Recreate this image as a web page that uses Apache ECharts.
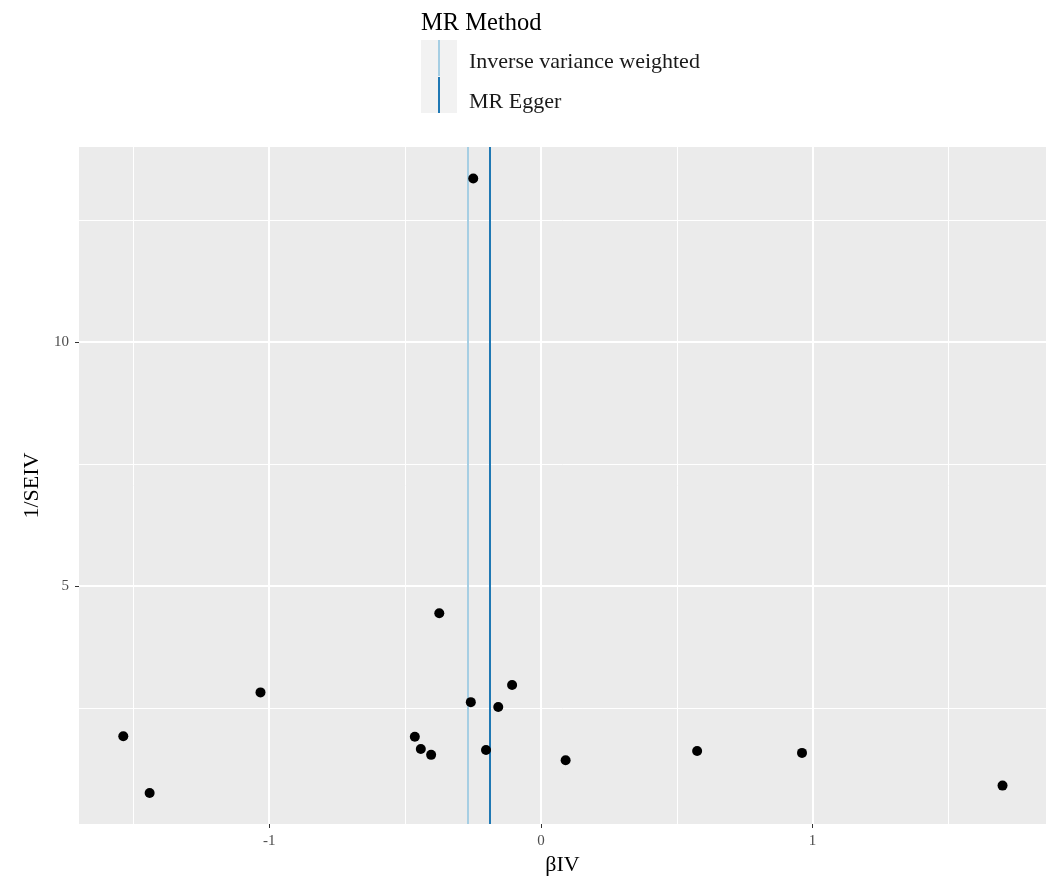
<!DOCTYPE html>
<html>
<head>
<meta charset="utf-8">
<script src="https://cdn.jsdelivr.net/npm/echarts@6/dist/echarts.min.js"></script>
<style>
  html, body { margin: 0; padding: 0; background: #fff; }
  #chart { width: 1052px; height: 877px; }
</style>
</head>
<body>
<div id="chart"></div>
<script>
// SNP estimates
const betaIV = [-1.537, -1.440, -1.032, -0.249, -0.374, -0.106, -0.258, -0.157,
                -0.464, -0.442, -0.404, -0.202, 0.091, 0.575, 0.961, 1.699];
const invSE  = [1.92, 0.76, 2.82, 13.35, 4.44, 2.97, 2.62, 2.52,
                1.91, 1.66, 1.54, 1.64, 1.43, 1.62, 1.58, 0.91];

// MR method slopes (vertical lines)
const methods = ['Inverse variance weighted', 'MR Egger'];
const methodBeta = [-0.2735, -0.186];
const methodColors = ['#a6cee3', '#1f78b4'];

// axis ticks
const xMajor = [-1, 0, 1];
const xMinor = [-1.5, -0.5, 0.5, 1.5];
const yMajor = [5, 10];
const yMinor = [2.5, 7.5, 12.5];

const xMin = -1.700, xMax = 1.859;
const yMin = 0.123, yMax = 13.996;

const serif = '"Liberation Serif", "DejaVu Serif", serif';

const chart = echarts.init(document.getElementById('chart'));

function axisCfg(values, major, min, max, pos) {
  return {
    type: 'value', min: min, max: max, position: pos,
    axisLine: { show: false, onZero: false },
    axisTick: { show: major, customValues: values, length: 4, lineStyle: { color: '#333', width: 1 } },
    axisLabel: { show: major, customValues: values, color: '#4d4d4d', fontSize: 15, fontFamily: serif, margin: 10 },
    splitLine: { show: true, lineStyle: { color: '#fff', width: major ? 2 : 1 } }
  };
}

const xAxes = [axisCfg(xMinor, false, xMin, xMax, 'bottom'), axisCfg(xMajor, true, xMin, xMax, 'bottom')];
xAxes[1].name = 'βIV';
xAxes[1].nameLocation = 'middle';
xAxes[1].nameGap = 29;
xAxes[1].nameTextStyle = { fontFamily: serif, fontSize: 22, color: '#000' };

const yAxes = [axisCfg(yMinor, false, yMin, yMax, 'left'), axisCfg(yMajor, true, yMin, yMax, 'left')];
yAxes[1].name = '1/SEIV';
yAxes[1].nameLocation = 'middle';
yAxes[1].nameGap = 28;
yAxes[1].nameTextStyle = { fontFamily: serif, fontSize: 22, color: '#000' };

const series = methods.map((m, i) => ({
  name: m,
  type: 'line',
  xAxisIndex: 1, yAxisIndex: 1,
  data: [],
  color: methodColors[i],
  itemStyle: { color: methodColors[i] },
  markLine: {
    silent: true,
    symbol: 'none',
    label: { show: false },
    lineStyle: { color: methodColors[i], width: 2, type: 'solid', opacity: 1 },
    data: [{ xAxis: methodBeta[i] }]
  }
}));

series.push({
  type: 'scatter',
  xAxisIndex: 1, yAxisIndex: 1,
  symbolSize: 10,
  itemStyle: { color: '#000', opacity: 1 },
  data: betaIV.map((b, i) => [b, invSE[i]]),
  z: 5
});

function legendFor(i, top, shift) {
  return {
    orient: 'vertical',
    left: 438, top: top,
    padding: 0,
    itemWidth: 2, itemHeight: 36,
    icon: 'rect',
    data: [methods[i]],
    formatter: '{t|{name}}',
    textStyle: {
      rich: {
        t: { fontFamily: serif, fontSize: 22, color: '#1a1a1a', padding: [shift * 2, 0, 0, 24] }
      }
    }
  };
}

chart.setOption({
  animation: false,
  title: {
    text: 'MR Method',
    left: 416, top: 6,
    textStyle: { fontFamily: serif, fontSize: 24.5, fontWeight: 'normal', color: '#000' }
  },
  graphic: [{
    type: 'rect', left: 421, top: 40, z: -1,
    shape: { width: 36, height: 73 },
    style: { fill: '#f2f2f2' }
  }],
  legend: [legendFor(0, 40, 4), legendFor(1, 77, 7)],
  grid: {
    left: 79, right: 6, top: 147, bottom: 53,
    outerBoundsMode: 'none', containLabel: false,
    show: true, backgroundColor: '#ebebeb', borderWidth: 0
  },
  xAxis: xAxes,
  yAxis: yAxes,
  series: series
});
</script>
</body>
</html>
